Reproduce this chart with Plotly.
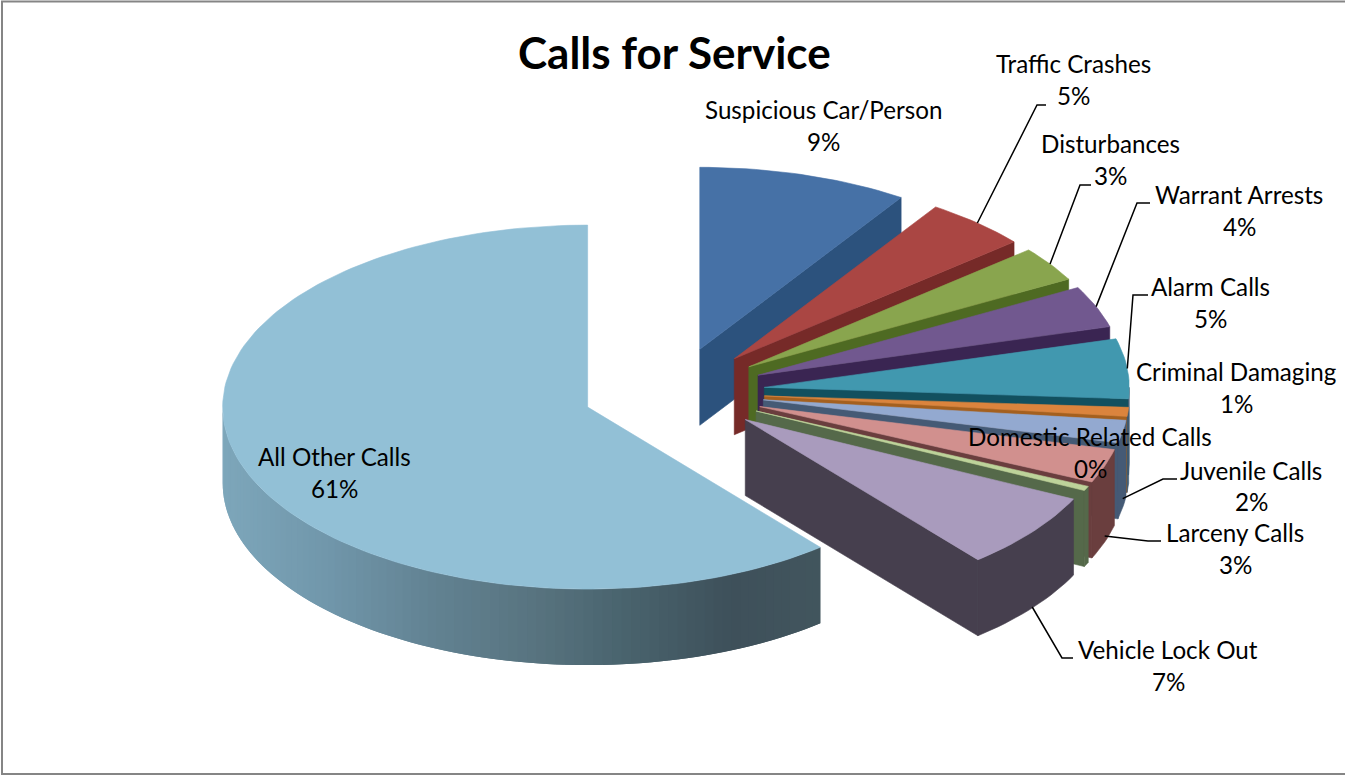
import math
import plotly.graph_objects as go

# Call categories in pie order, clockwise from twelve o'clock
categories = ["Suspicious Car/Person", "Traffic Crashes", "Disturbances", "Warrant Arrests",
              "Alarm Calls", "Criminal Damaging", "Juvenile Calls", "Larceny Calls",
              "Domestic Related Calls", "Vehicle Lock Out", "All Other Calls"]
shares = [9.3, 4.6, 3.1, 3.7, 5.3, 0.8, 2.0, 3.0, 0.4, 6.8, 61.0]
top_colors = ["#4671a6", "#aa4643", "#89a54e", "#71588f", "#4198af", "#db843d",
              "#93a9d0", "#d1908e", "#bdd39a", "#a99bbd", "#92c0d6"]
wall_colors = ["#2c527d", "#762a28", "#4e6a22", "#3a2552", "#12505f", "#a4601f",
               "#455a75", "#6a3e3e", "#55694a", "#463f4e", "#5a7c8c"]
rim_colors = ["#2c527d", "#762a28", "#4e6a22", "#3a2552", "#3f5a72", "#3f5a72",
              "#455a75", "#6a3e3e", "#55694a", "#463f4e", "#5a7c8c"]

# Side-wall shading of the large slice, left to right along the rim
rim_shades = [(125, 166, 186), (112, 150, 170), (98, 130, 146), (88, 116, 128),
              (72, 98, 108), (62, 80, 90), (66, 86, 94)]

# Projection of the tilted disc onto the page, in pixels
CX, CY = 673.5, 392
RX, RY = 365, 182
EXPLODE_X, EXPLODE_Y = 0.25, 0.245
DEPTH = 76


def rim(ax, ay, deg):
    t = math.radians(deg)
    return ax + RX * math.sin(t), ay - RY * math.cos(t)


def arc(start, end):
    n = max(2, int(abs(end - start) / 1.5) + 2)
    return [start + (end - start) * i / (n - 1) for i in range(n)]


def polygon(points, color, width=0.6):
    return go.Scatter(x=[p[0] for p in points] + [points[0][0]],
                      y=[p[1] for p in points] + [points[0][1]],
                      mode="lines", fill="toself", fillcolor=color,
                      line=dict(color=color, width=width),
                      hoverinfo="skip", showlegend=False)


def shade(x):
    pos = (x - 224) / (822 - 224) * (len(rim_shades) - 1)
    pos = min(max(pos, 0), len(rim_shades) - 1.001)
    i = int(pos)
    f = pos - i
    c = [rim_shades[i][k] * (1 - f) + rim_shades[i + 1][k] * f for k in range(3)]
    return f"rgb({c[0]:.0f},{c[1]:.0f},{c[2]:.0f})"


fig = go.Figure()
anchors = {}
total = sum(shares)
running = 0.0
for name, share, top, wall, outer in zip(categories, shares, top_colors, wall_colors, rim_colors):
    start = running / total * 360
    running += share
    end = running / total * 360
    mid = math.radians((start + end) / 2)
    ax = CX + EXPLODE_X * RX * math.sin(mid)
    ay = CY - EXPLODE_Y * RY * math.cos(mid)

    # Radial face on the clockwise edge
    ex, ey = rim(ax, ay, end)
    if end < 350:
        fig.add_trace(polygon([(ax, ay), (ex, ey), (ex, ey + DEPTH), (ax, ay + DEPTH)], wall))

    # Curved outer wall, only on the near half of the disc
    lo, hi = max(start, 90), min(end, 270)
    if hi > lo:
        angles = arc(lo, hi)
        if name == categories[-1]:
            # Overlapping strips painted in sequence keep the shading free of seams
            for i in range(1, len(angles)):
                p0 = rim(ax, ay, angles[max(i - 2, 0)])
                p = rim(ax, ay, angles[i - 1])
                q = rim(ax, ay, angles[i])
                fig.add_trace(polygon([p0, p, q, (q[0], q[1] + DEPTH), (p[0], p[1] + DEPTH),
                                       (p0[0], p0[1] + DEPTH)],
                                      shade((p[0] + q[0]) / 2), width=0))
        else:
            upper = [rim(ax, ay, a) for a in angles]
            lower = [(x, y + DEPTH) for x, y in reversed(upper)]
            fig.add_trace(polygon(upper + lower, outer))

    # Top face
    pts = [(ax, ay)] + [rim(ax, ay, a) for a in arc(start, end)]
    fig.add_trace(polygon(pts, top))

    mid_deg = (start + end) / 2
    anchors[name] = rim(ax, ay, mid_deg)

# Leader lines: drop onto the wall (front slices), then elbow and tail to the label
leaders = {
    "Traffic Crashes": (0, [(1037, 105), (1046, 105)]),
    "Disturbances": (0, [(1080, 185), (1091, 185)]),
    "Warrant Arrests": (0, [(1137, 203), (1150, 203)]),
    "Alarm Calls": (0, [(1133, 295), (1148, 295)]),
    "Juvenile Calls": (67, [(1163, 479), (1177, 479)]),
    "Larceny Calls": (70, [(1148, 541), (1161, 541)]),
    "Vehicle Lock Out": (75, [(1062, 658), (1073, 658)]),
}
for name, (drop, tail) in leaders.items():
    x0, y0 = anchors[name]
    xs = [x0] + [p[0] for p in tail]
    ys = [y0 + drop] + [p[1] for p in tail]
    fig.add_trace(go.Scatter(x=xs, y=ys, mode="lines", line=dict(color="#000000", width=1.5),
                             hoverinfo="skip", showlegend=False))

# Label centres: x, name line y, percent line y
label_pos = {
    "Suspicious Car/Person": (823, 109, 141),
    "Traffic Crashes": (1073, 63, 95),
    "Disturbances": (1110, 143, 175),
    "Warrant Arrests": (1239, 194, 226),
    "Alarm Calls": (1210, 286, 318),
    "Criminal Damaging": (1236, 371, 403),
    "Juvenile Calls": (1251, 470, 501),
    "Larceny Calls": (1235, 532, 564),
    "Domestic Related Calls": (1090, 436, 468),
    "Vehicle Lock Out": (1168, 649, 681),
    "All Other Calls": (334, 456, 488),
}
LABEL_FONT = dict(family="Lato", size=24.2, color="#000000")
annotations = [dict(x=674, y=52, xref="x", yref="y", text="<b>Calls for Service</b>", showarrow=False,
                    font=dict(family="Lato", size=44, color="#000000"))]
for name, share in zip(categories, shares):
    x, y1, y2 = label_pos[name]
    annotations.append(dict(x=x, y=y1, xref="x", yref="y", text=name, showarrow=False, font=LABEL_FONT))
    annotations.append(dict(x=x, y=y2, xref="x", yref="y", text=f"{round(share)}%", showarrow=False, font=LABEL_FONT))

fig.update_layout(
    width=1345, height=775, autosize=False,
    margin=dict(l=0, r=0, t=0, b=0),
    paper_bgcolor="#ffffff", plot_bgcolor="#ffffff",
    xaxis=dict(range=[0, 1345], visible=False, fixedrange=True),
    yaxis=dict(range=[775, 0], visible=False, fixedrange=True),
    annotations=annotations,
    # Chart frame: open on the right-hand side
    shapes=[dict(type="path", xref="x", yref="y", path="M 1345 1.5 L 2 1.5 L 2 774 L 1345 774",
                 line=dict(color="#858585", width=2), layer="below")],
)
fig.write_html("out.html", config=dict(displayModeBar=False))
